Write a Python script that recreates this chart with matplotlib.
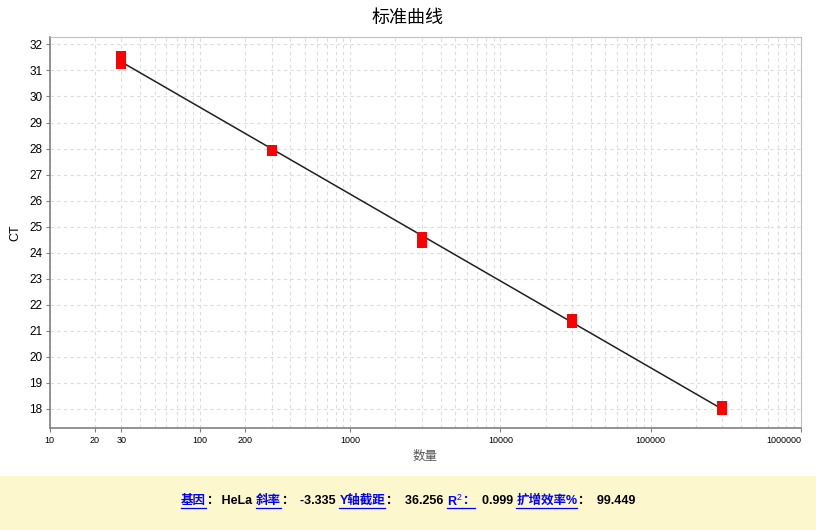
import matplotlib
matplotlib.use('Agg')
import matplotlib.pyplot as plt
import numpy as np
from matplotlib.ticker import FixedLocator, FixedFormatter, LogLocator, NullFormatter

plt.rcParams['font.family'] = ['Liberation Sans', 'Noto Sans CJK SC', 'DejaVu Sans']
plt.rcParams['mathtext.fontset'] = 'custom'
plt.rcParams['mathtext.rm'] = 'Liberation Sans'
plt.rcParams['mathtext.bf'] = 'Liberation Sans:bold'

# replicate wells
quantity = [30, 30, 300, 300, 3000, 3000, 30000, 30000, 300000, 300000]
ct = [31.56, 31.25, 27.95, 27.89, 24.62, 24.39, 21.47, 21.32, 18.13, 17.96]

# fit summary
gene = 'HeLa'
slope = -3.335
intercept = 36.256
r2 = 0.999
efficiency = 99.449

xtick_vals = [10, 20, 30, 100, 200, 1000, 10000, 100000, 1000000]
xtick_labels = ['10', '20', '30', '100', '200', '1000', '10000', '100000', '1000000']

fig = plt.figure(figsize=(8.16, 5.30), dpi=100)
ax = fig.add_axes([0.0607, 0.1925, 0.9209, 0.7375])

# fitted line
xs = np.array([min(quantity), max(quantity)])
ax.plot(xs, slope * np.log10(xs) + intercept, color='#202020', lw=1.1, zorder=3)
ax.plot(quantity, ct, 's', color='red', markersize=6.6, markeredgewidth=0, zorder=4)

ax.set_xscale('log')
ax.set_xlim(10, 1000000)
ax.set_ylim(17.27, 32.28)
ax.set_yticks(range(18, 33))
ax.xaxis.set_major_locator(FixedLocator(xtick_vals))
ax.xaxis.set_major_formatter(FixedFormatter(xtick_labels))
ax.xaxis.set_minor_locator(LogLocator(base=10, subs=np.arange(2, 10)))
ax.xaxis.set_minor_formatter(NullFormatter())

ax.grid(True, which='both', axis='x', color='#dcdcdc', ls=(0, (3, 3)), lw=0.8)
ax.grid(True, which='major', axis='y', color='#dcdcdc', ls=(0, (3, 3)), lw=0.8)
ax.set_axisbelow(True)

ax.tick_params(axis='x', which='major', labelsize=6.5, length=3, color='#808080', pad=3)
ax.tick_params(axis='x', which='minor', length=0)
ax.tick_params(axis='y', labelsize=8.5, length=3, color='#808080', pad=2)
for s in ['left', 'bottom']:
    ax.spines[s].set_color('#808080')
    ax.spines[s].set_linewidth(1.2)
for s in ['top', 'right']:
    ax.spines[s].set_color('#c0c0c0')

ax.set_ylabel('CT', fontsize=9, labelpad=6)
ax.set_xlabel('数量', fontsize=9, color='#555555', labelpad=4)
fig.text(0.5, 0.965, '标准曲线', ha='center', va='center', fontsize=13)

# info bar
fig.patches.append(plt.Rectangle((0, 0), 1, 54 / 530, transform=fig.transFigure,
                                 facecolor='#fdf7cd', edgecolor='none', zorder=0))

pieces = [
    ('基因', 'blue', True), ('：', 'black', False), (' ' + gene + ' ', 'black', False),
    ('斜率', 'blue', True), ('：', 'black', False), ('  %.3f ' % slope, 'black', False),
    ('Y轴截距', 'blue', True), ('：', 'black', False), ('  %.3f ' % intercept, 'black', False),
    ('R$^{2}$', 'blue', True), ('：', 'blue', True), ('  %.3f ' % r2, 'black', False),
    ('扩增效率%', 'blue', True), ('：', 'black', False), ('  %.3f' % efficiency, 'black', False),
]

fig.canvas.draw()
renderer = fig.canvas.get_renderer()

# keep the last tick label inside the figure
last = ax.get_xticklabels()[-1]
last.set_horizontalalignment('right')

texts = []
x = 0
for txt, col, ul in pieces:
    t = fig.text(x, 29 / 530, txt, color=col, fontsize=9, fontweight='bold',
                 ha='left', va='center')
    bb = t.get_window_extent(renderer)
    texts.append((t, ul))
    x += bb.width / fig.bbox.width
total = x
x0 = 0.5 - total / 2
base_y = None
for t, ul in texts:
    px, py = t.get_position()
    t.set_x(px + x0)
    if ul:
        bb = t.get_window_extent(renderer)
        if base_y is None:
            base_y = (bb.y0 - 1) / fig.bbox.height
        fig.add_artist(plt.Line2D([bb.x0 / fig.bbox.width, bb.x1 / fig.bbox.width], [base_y, base_y],
                                  transform=fig.transFigure, color='blue', lw=0.9))

fig.savefig('out.png', dpi=100)
